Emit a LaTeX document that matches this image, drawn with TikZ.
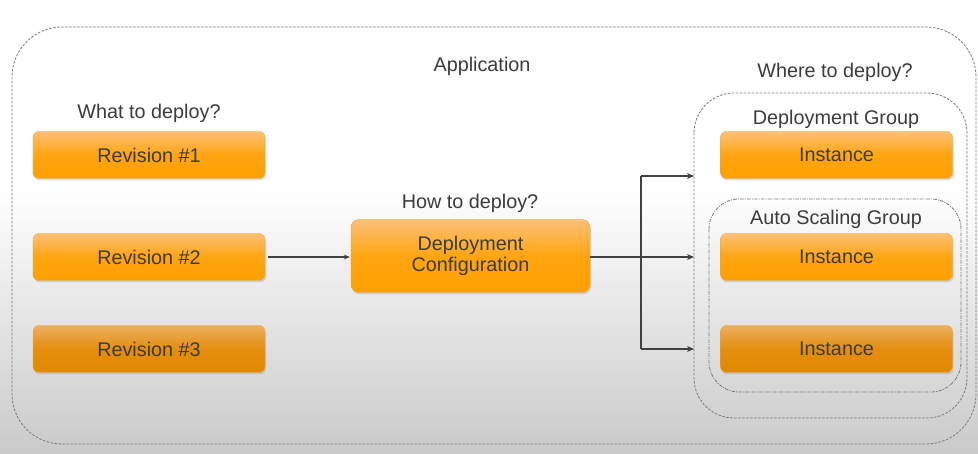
\documentclass[tikz,border=0pt]{standalone}
\usepackage{fontspec}
\setmainfont{Liberation Sans}
\usetikzlibrary{arrows.meta,shadows}
\definecolor{txt}{RGB}{60,60,60}
\definecolor{otop}{RGB}{252,192,118}
\definecolor{obot}{RGB}{255,160,0}
\definecolor{otopd}{RGB}{236,176,96}
\definecolor{obotd}{RGB}{226,136,0}
\definecolor{oedge}{RGB}{240,165,60}
\definecolor{dashc}{RGB}{120,120,120}
\definecolor{arr}{RGB}{65,65,65}
\tikzset{
  obox/.style={rounded corners=6pt, draw=oedge, line width=0.4pt,
    top color=otop, bottom color=obot, middle color=obot!85!otop,
    minimum width=232pt, minimum height=47pt, inner sep=0pt,
    font=\fontsize{19.8}{22}\selectfont, text=txt, align=center,
    drop shadow={opacity=0.25, shadow xshift=1pt, shadow yshift=-2pt}},
  oboxd/.style={obox, top color=otopd, bottom color=obotd, middle color=obotd!85!otopd},
  lbl/.style={font=\fontsize{19.8}{22}\selectfont, text=txt, inner sep=0pt},
  grp/.style={draw=dashc, line width=0.8pt, dash pattern=on 2.5pt off 1.5pt},
  thinarr/.style={draw=arr, line width=1.6pt, -{Stealth[length=6pt,width=5pt]}},
  thickln/.style={draw=arr, line width=2.4pt},
  thickarr/.style={draw=arr, line width=2.4pt, -{Stealth[length=7pt,width=6pt]}}
}
\begin{document}
\begin{tikzpicture}[x=1pt,y=-1pt]
\useasboundingbox (0,0) rectangle (978,454);
\fill[white] (0,0) rectangle (978,190);
\shade[top color=white, bottom color=black!21] (0,189.5) rectangle (978,454);
% outer application group
\draw[grp, rounded corners=50pt] (12,27) rectangle (976,444);
\node[lbl] (app) at (482,66) {Application};
% what to deploy
\node[lbl] (what) at (149,113) {What to deploy?};
\node[obox] (r1) at (149,155) {Revision \#1};
\node[obox] (r2) at (149,257) {Revision \#2};
\node[oboxd] (r3) at (149,349) {Revision \#3};
% how to deploy
\node[lbl] (how) at (470,203) {How to deploy?};
\node[obox, minimum width=239pt, minimum height=73pt, rounded corners=8pt] (dc) at (470.5,256) {Deployment\\[-1pt]Configuration};
% where to deploy
\node[lbl] (where) at (835,72) {Where to deploy?};
\draw[grp, rounded corners=40pt] (694,93) rectangle (967,418);
\node[lbl] (dg) at (836,119) {Deployment Group};
\draw[grp, rounded corners=30pt, dash pattern=on 3.5pt off 1.2pt on 1pt off 1.2pt] (709,199) rectangle (961,392);
\node[lbl] (asg) at (836,219) {Auto Scaling Group};
\node[obox] (i1) at (836.5,155) {Instance};
\node[obox] (i2) at (836.5,257) {Instance};
\node[oboxd] (i3) at (836.5,349) {Instance};
% coordinates for connectors
\coordinate (j) at (641,257);
\coordinate (jt) at (641,176);
\coordinate (jb) at (641,349);
\coordinate (t1) at (694,176);
\coordinate (t2) at (694,257);
\coordinate (t3) at (694,349);
\coordinate (r2e) at ([xshift=3pt]r2.east);
\coordinate (dcw) at ([xshift=-1pt]dc.west);
% connectors
\draw[thinarr] (r2e) -- (dcw |- r2e);
\draw[thickln] (dc.east |- j) -- (j);
\draw[thickln] (jt) -- (jb);
\draw[thickarr] (jt) -- (t1);
\draw[thickarr] (j) -- (t2);
\draw[thickarr] (jb) -- (t3);
\end{tikzpicture}
\end{document}
